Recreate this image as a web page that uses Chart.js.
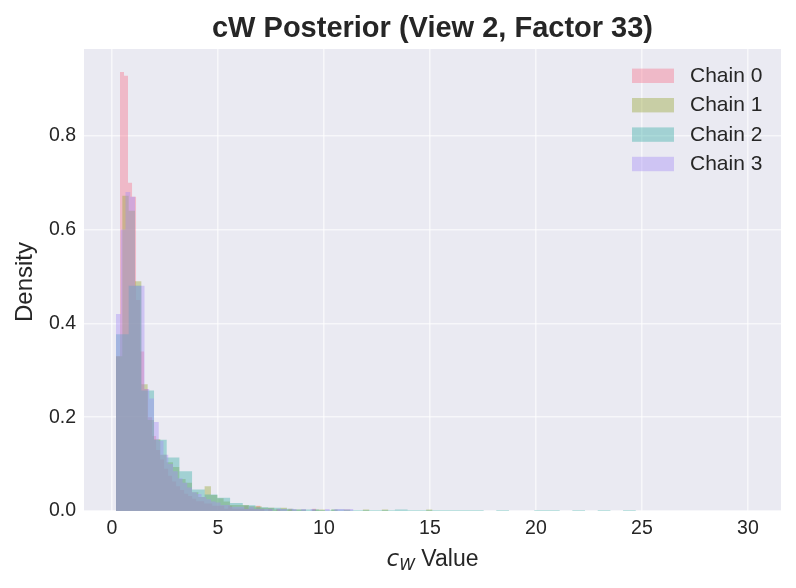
<!DOCTYPE html>
<html lang="en">
<head>
    <meta charset="UTF-8">
    <title>cW Posterior (View 2, Factor 33)</title>
    <script src="https://cdn.jsdelivr.net/npm/chart.js"></script>
    <style>
        html, body {
            margin: 0;
            padding: 0;
            background: #ffffff;
        }
        #wrap {
            width: 796px;
            height: 588px;
        }
    </style>
</head>
<body>
    <div id="wrap">
        <canvas id="chart" width="796" height="588"></canvas>
    </div>

    <script>
        // Histogram data (density per bin)
        const chainLabels = ['Chain 0', 'Chain 1', 'Chain 2', 'Chain 3'];
        const chainColors = ['247,113,137', '151,164,49', '54,173,164', '164,140,244'];
        const binStart = [0.19, 0.19, 0.19, 0.19];
        const binWidth = [0.189, 0.2986, 0.598, 0.224];

        const chain0 = [0.33, 0.936, 0.928, 0.70, 0.67, 0.45, 0.34, 0.26, 0.20, 0.16,
            0.13, 0.11, 0.09, 0.075, 0.063, 0.053, 0.045, 0.037, 0.032, 0.026,
            0.021, 0.021, 0.016, 0.016, 0.011, 0.011, 0.011, 0.005, 0.011, 0.005,
            0.005, 0.005, 0.011, 0.005, 0.005, 0.011, 0.005, 0, 0.005, 0,
            0.005, 0, 0, 0.005, 0, 0, 0, 0, 0, 0.005];
        const chain1 = [0.33, 0.672, 0.64, 0.49, 0.27, 0.194, 0.153, 0.12, 0.104, 0.094,
            0.068, 0.06, 0.04, 0.03, 0.053, 0.034, 0.027, 0.02, 0.013, 0.013,
            0.013, 0.01, 0.01, 0.007, 0.007, 0.003, 0.007, 0.003, 0.003, 0.003,
            0, 0.003, 0.003, 0, 0.003, 0, 0.003, 0, 0, 0.003,
            0, 0, 0.003, 0, 0, 0, 0, 0, 0, 0.003];
        const chain2 = [0.377, 0.48, 0.257, 0.152, 0.114, 0.085, 0.046, 0.035, 0.028, 0.017,
            0.012, 0.008, 0.007, 0.005, 0.003, 0.003, 0.0017, 0.0033, 0.0017, 0.0017,
            0.0017, 0.0017, 0.0033, 0.0017, 0.0017, 0.0017, 0.0017, 0.0017, 0.0017, 0,
            0.0017, 0, 0, 0.0017, 0.0017, 0, 0.0017, 0, 0.0017, 0,
            0.0017, 0, 0, 0, 0, 0, 0, 0, 0, 0];
        const chain3 = [0.42, 0.60, 0.68, 0.67, 0.48, 0.48, 0.26, 0.24, 0.19, 0.15,
            0.12, 0.10, 0.085, 0.07, 0.06, 0.05, 0.04, 0.036, 0.03, 0.025,
            0.02, 0.018, 0.013, 0.013, 0.009, 0.009, 0.009, 0.0045, 0.009, 0.0045,
            0.0045, 0.0045, 0.0045, 0, 0.0045, 0.0045, 0, 0.0045, 0, 0.0045,
            0, 0.0045, 0, 0, 0.0045, 0, 0.0045, 0.0045, 0.0045, 0.0045];
        const chainValues = [chain0, chain1, chain2, chain3];

        const xTicks = [0, 5, 10, 15, 20, 25, 30];
        const yTicks = [0, 0.2, 0.4, 0.6, 0.8];

        const FONT = '"Liberation Sans", Arial, sans-serif';
        const TEXT = '#262626';
        const GRID = 'rgba(255,255,255,0.6)';

        // step points: each bin's left edge carries its height, closing edge drops to 0
        function histPoints(start, width, heights) {
            const pts = heights.map((h, k) => ({ x: start + k * width, y: h }));
            pts.push({ x: start + heights.length * width, y: 0 });
            return pts;
        }

        const datasets = chainValues.map((vals, i) => ({
            label: chainLabels[i],
            data: histPoints(binStart[i], binWidth[i], vals),
            stepped: true,
            fill: 'origin',
            backgroundColor: 'rgba(' + chainColors[i] + ',0.4)',
            borderColor: 'transparent',
            borderWidth: 0,
            pointRadius: 0,
            order: 3 - i
        }));

        const decorations = {
            id: 'decorations',
            beforeDraw(chart) {
                const { ctx, chartArea: a } = chart;
                ctx.save();
                ctx.fillStyle = '#eaeaf2';
                ctx.fillRect(a.left, a.top, a.right - a.left, a.bottom - a.top);
                ctx.restore();
            },
            afterDraw(chart) {
                const { ctx, chartArea: a } = chart;
                const cx = (a.left + a.right) / 2;
                ctx.save();
                ctx.fillStyle = TEXT;

                // title
                ctx.font = 'bold 29px ' + FONT;
                ctx.textAlign = 'center';
                ctx.textBaseline = 'alphabetic';
                ctx.fillText('cW Posterior (View 2, Factor 33)', cx, 36.5);

                // y axis title
                ctx.save();
                ctx.translate(25, 282);
                ctx.rotate(-Math.PI / 2);
                ctx.font = '24px ' + FONT;
                ctx.textBaseline = 'middle';
                ctx.fillText('Density', 0, 0);
                ctx.restore();

                // x axis title: c with subscript W, then Value
                const base = 566;
                const fC = 'italic 23px "DejaVu Sans", ' + FONT;
                const fW = 'italic 16px "DejaVu Sans", ' + FONT;
                const fV = '23px ' + FONT;
                ctx.textAlign = 'left';
                ctx.font = fC; const wC = ctx.measureText('c').width;
                ctx.font = fW; const wW = ctx.measureText('W').width;
                ctx.font = fV; const wV = ctx.measureText(' Value').width;
                let x = cx - (wC + wW + wV) / 2;
                ctx.font = fC; ctx.fillText('c', x, base); x += wC;
                ctx.font = fW; ctx.fillText('W', x, base + 3.5); x += wW;
                ctx.font = fV; ctx.fillText(' Value', x, base);

                // legend
                ctx.font = '21px ' + FONT;
                ctx.textBaseline = 'middle';
                chainLabels.forEach((lab, i) => {
                    const y = 75.8 + i * 29.4;
                    ctx.fillStyle = 'rgba(' + chainColors[i] + ',0.4)';
                    ctx.fillRect(632, y - 7.2, 42, 14.4);
                    ctx.fillStyle = TEXT;
                    ctx.fillText(lab, 690, y + 0.5);
                });
                ctx.restore();
            }
        };

        new Chart(document.getElementById('chart'), {
            type: 'line',
            data: { datasets },
            options: {
                responsive: false,
                animation: false,
                events: [],
                layout: { padding: { top: 49, right: 15, left: 0, bottom: 0 } },
                plugins: {
                    legend: { display: false },
                    title: { display: false },
                    tooltip: { enabled: false }
                },
                scales: {
                    x: {
                        type: 'linear',
                        min: -1.32,
                        max: 31.56,
                        afterBuildTicks: s => { s.ticks = xTicks.map(v => ({ value: v })); },
                        afterFit: s => { s.height = 77; },
                        border: { display: false },
                        grid: { color: GRID, lineWidth: 1.6, drawTicks: false },
                        ticks: {
                            color: TEXT,
                            font: { family: FONT, size: 19.5 },
                            padding: 6,
                            maxRotation: 0,
                            autoSkip: false,
                            callback: v => String(v)
                        }
                    },
                    y: {
                        type: 'linear',
                        min: 0,
                        max: 0.985,
                        afterBuildTicks: s => { s.ticks = yTicks.map(v => ({ value: v })); },
                        afterFit: s => { s.width = 84; },
                        border: { display: false },
                        grid: { color: GRID, lineWidth: 1.6, drawTicks: false },
                        ticks: {
                            color: TEXT,
                            font: { family: FONT, size: 19.5 },
                            padding: 8,
                            autoSkip: false,
                            callback: v => v.toFixed(1)
                        }
                    }
                }
            },
            plugins: [decorations]
        });
    </script>
</body>
</html>
